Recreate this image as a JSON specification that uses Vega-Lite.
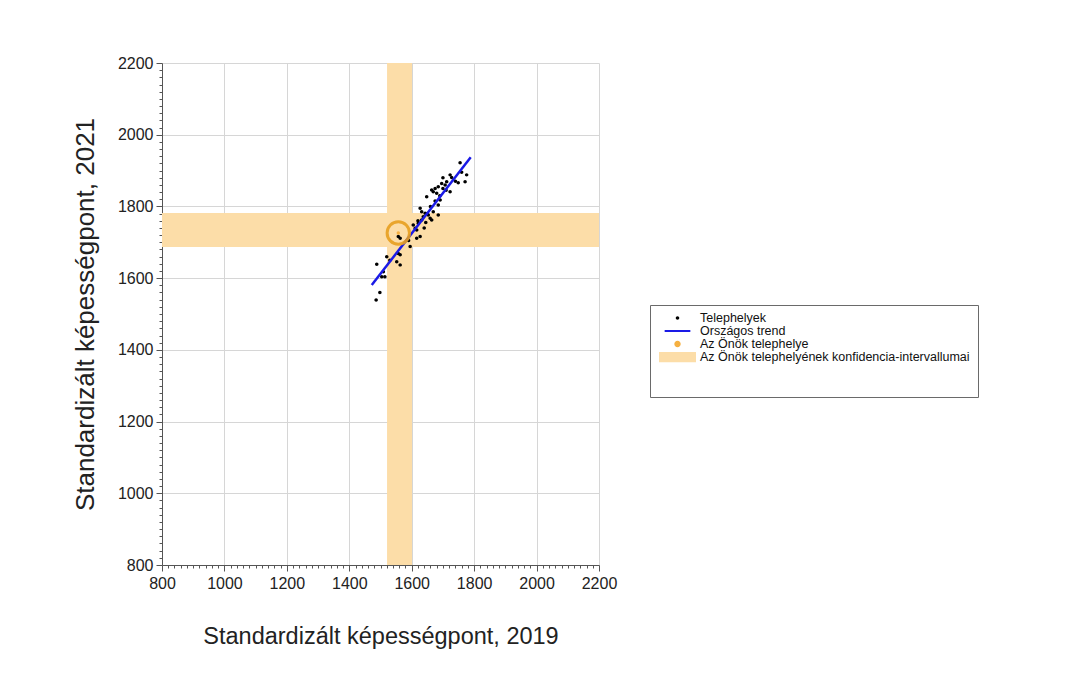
{
  "$schema": "https://vega.github.io/schema/vega-lite/v6.json",
  "width": 437,
  "height": 502,
  "autosize": {"type": "none"},
  "padding": {"left": 162, "top": 63, "right": 467, "bottom": 112},
  "background": "white",
  "config": {
    "view": {"stroke": null},
    "font": "Liberation Sans",
    "axis": {
      "labelFont": "Liberation Sans",
      "titleFont": "Liberation Sans",
      "labelFontSize": 16,
      "titleFontWeight": "normal",
      "labelColor": "#222222",
      "titleColor": "#222222",
      "domainColor": "#555555",
      "tickColor": "#555555",
      "labelFlush": false
    }
  },
  "datasets": {
    "sites": [
      {"x": 1755, "y": 1922, "series": "Telephelyek"},
      {"x": 1723, "y": 1888, "series": "Telephelyek"},
      {"x": 1728, "y": 1881, "series": "Telephelyek"},
      {"x": 1776, "y": 1888, "series": "Telephelyek"},
      {"x": 1771, "y": 1869, "series": "Telephelyek"},
      {"x": 1749, "y": 1866, "series": "Telephelyek"},
      {"x": 1712, "y": 1869, "series": "Telephelyek"},
      {"x": 1707, "y": 1860, "series": "Telephelyek"},
      {"x": 1696, "y": 1864, "series": "Telephelyek"},
      {"x": 1685, "y": 1855, "series": "Telephelyek"},
      {"x": 1675, "y": 1850, "series": "Telephelyek"},
      {"x": 1669, "y": 1841, "series": "Telephelyek"},
      {"x": 1680, "y": 1837, "series": "Telephelyek"},
      {"x": 1664, "y": 1846, "series": "Telephelyek"},
      {"x": 1723, "y": 1841, "series": "Telephelyek"},
      {"x": 1648, "y": 1827, "series": "Telephelyek"},
      {"x": 1691, "y": 1818, "series": "Telephelyek"},
      {"x": 1685, "y": 1804, "series": "Telephelyek"},
      {"x": 1627, "y": 1795, "series": "Telephelyek"},
      {"x": 1632, "y": 1785, "series": "Telephelyek"},
      {"x": 1643, "y": 1781, "series": "Telephelyek"},
      {"x": 1653, "y": 1776, "series": "Telephelyek"},
      {"x": 1637, "y": 1771, "series": "Telephelyek"},
      {"x": 1659, "y": 1767, "series": "Telephelyek"},
      {"x": 1664, "y": 1762, "series": "Telephelyek"},
      {"x": 1632, "y": 1762, "series": "Telephelyek"},
      {"x": 1621, "y": 1753, "series": "Telephelyek"},
      {"x": 1685, "y": 1776, "series": "Telephelyek"},
      {"x": 1669, "y": 1785, "series": "Telephelyek"},
      {"x": 1605, "y": 1748, "series": "Telephelyek"},
      {"x": 1611, "y": 1739, "series": "Telephelyek"},
      {"x": 1616, "y": 1734, "series": "Telephelyek"},
      {"x": 1627, "y": 1716, "series": "Telephelyek"},
      {"x": 1616, "y": 1711, "series": "Telephelyek"},
      {"x": 1557, "y": 1716, "series": "Telephelyek"},
      {"x": 1563, "y": 1711, "series": "Telephelyek"},
      {"x": 1595, "y": 1688, "series": "Telephelyek"},
      {"x": 1563, "y": 1665, "series": "Telephelyek"},
      {"x": 1557, "y": 1669, "series": "Telephelyek"},
      {"x": 1520, "y": 1660, "series": "Telephelyek"},
      {"x": 1552, "y": 1646, "series": "Telephelyek"},
      {"x": 1563, "y": 1637, "series": "Telephelyek"},
      {"x": 1488, "y": 1639, "series": "Telephelyek"},
      {"x": 1509, "y": 1618, "series": "Telephelyek"},
      {"x": 1504, "y": 1604, "series": "Telephelyek"},
      {"x": 1514, "y": 1604, "series": "Telephelyek"},
      {"x": 1498, "y": 1560, "series": "Telephelyek"},
      {"x": 1486, "y": 1539, "series": "Telephelyek"},
      {"x": 1700, "y": 1850, "series": "Telephelyek"},
      {"x": 1690, "y": 1830, "series": "Telephelyek"},
      {"x": 1740, "y": 1870, "series": "Telephelyek"},
      {"x": 1650, "y": 1780, "series": "Telephelyek"},
      {"x": 1620, "y": 1760, "series": "Telephelyek"},
      {"x": 1640, "y": 1740, "series": "Telephelyek"},
      {"x": 1660, "y": 1800, "series": "Telephelyek"},
      {"x": 1710, "y": 1845, "series": "Telephelyek"},
      {"x": 1760, "y": 1895, "series": "Telephelyek"},
      {"x": 1590, "y": 1705, "series": "Telephelyek"},
      {"x": 1530, "y": 1650, "series": "Telephelyek"},
      {"x": 1675, "y": 1815, "series": "Telephelyek"},
      {"x": 1645, "y": 1755, "series": "Telephelyek"},
      {"x": 1700, "y": 1880, "series": "Telephelyek"}
    ],
    "trend": [
      {"x": 1472, "y": 1581, "series": "Országos trend"},
      {"x": 1789, "y": 1937, "series": "Országos trend"}
    ],
    "own": [
      {"x": 1557, "y": 1726, "xlo": 1521, "xhi": 1601, "ylo": 1687, "yhi": 1782, "series": "Az Önök telephelye"}
    ]
  },
  "layer": [
    {
      "data": {"name": "own"},
      "mark": {"type": "rect", "color": "#FCDDA8"},
      "encoding": {
        "x": {
          "field": "xlo", "type": "quantitative", "title": "Standardizált képességpont, 2019",
          "scale": {"domain": [800, 2200], "nice": false},
          "axis": {
            "values": [800,820,840,860,880,900,920,940,960,980,1000,1020,1040,1060,1080,1100,1120,1140,1160,1180,1200,1220,1240,1260,1280,1300,1320,1340,1360,1380,1400,1420,1440,1460,1480,1500,1520,1540,1560,1580,1600,1620,1640,1660,1680,1700,1720,1740,1760,1780,1800,1820,1840,1860,1880,1900,1920,1940,1960,1980,2000,2020,2040,2060,2080,2100,2120,2140,2160,2180,2200],
            "tickCount": 200,
            "format": "d",
            "grid": true,
            "labelOverlap": false,
            "labelFlush": false,
            "labelExpr": "datum.value % 200 === 0 ? datum.label : ''",
            "gridColor": {"condition": {"test": "datum.value % 200 === 0", "value": "#d6d6d6"}, "value": "rgba(0,0,0,0)"},
            "tickSize": {"condition": {"test": "datum.value % 200 === 0", "value": 6}, "value": 3},
            "labelPadding": 4,
            "titleFontSize": 23.5,
            "titlePadding": 33
          }
        },
        "x2": {"field": "xhi"},
        "y": {
          "datum": 800, "type": "quantitative", "title": "Standardizált képességpont, 2021",
          "scale": {"domain": [800, 2200], "nice": false}
        },
        "y2": {"datum": 2200}
      }
    },
    {
      "data": {"name": "own"},
      "mark": {"type": "rect", "color": "#FCDDA8"},
      "encoding": {
        "y": {
          "field": "ylo", "type": "quantitative", "title": "Standardizált képességpont, 2021",
          "axis": {
            "values": [800,820,840,860,880,900,920,940,960,980,1000,1020,1040,1060,1080,1100,1120,1140,1160,1180,1200,1220,1240,1260,1280,1300,1320,1340,1360,1380,1400,1420,1440,1460,1480,1500,1520,1540,1560,1580,1600,1620,1640,1660,1680,1700,1720,1740,1760,1780,1800,1820,1840,1860,1880,1900,1920,1940,1960,1980,2000,2020,2040,2060,2080,2100,2120,2140,2160,2180,2200],
            "tickCount": 200,
            "format": "d",
            "grid": true,
            "labelOverlap": false,
            "labelFlush": false,
            "labelExpr": "datum.value % 200 === 0 ? datum.label : ''",
            "gridColor": {"condition": {"test": "datum.value % 200 === 0", "value": "#d6d6d6"}, "value": "rgba(0,0,0,0)"},
            "tickSize": {"condition": {"test": "datum.value % 200 === 0", "value": 6}, "value": 3},
            "labelPadding": 3,
            "titleFontSize": 26,
            "titlePadding": 19
          }
        },
        "y2": {"field": "yhi"},
        "x": {"datum": 800, "type": "quantitative", "title": "Standardizált képességpont, 2019"},
        "x2": {"datum": 2200}
      }
    },
    {
      "data": {"name": "sites"},
      "mark": {"type": "point", "filled": true, "opacity": 1},
      "encoding": {
        "x": {"field": "x", "type": "quantitative", "title": "Standardizált képességpont, 2019"},
        "y": {"field": "y", "type": "quantitative", "title": "Standardizált képességpont, 2021"},
        "color": {
          "field": "series", "type": "nominal", "title": " ",
          "scale": {
            "domain": ["Telephelyek", "Országos trend", "Az Önök telephelye", "Az Önök telephelyének konfidencia-intervallumai"],
            "range": ["#000000", "#1a1ae6", "#f5b041", "#FCDDA8"]
          },
          "legend": {
            "titleOrient": "bottom",
            "titleFontSize": 12,
            "titlePadding": 14,
            "orient": "none",
            "legendX": 488,
            "legendY": 242,
            "padding": 8,
            "strokeColor": "#6a6a6a",
            "fillColor": "white",
            "labelFont": "Liberation Sans",
            "labelFontSize": 12.5,
            "labelColor": "#111111",
            "labelLimit": 400,
            "labelOffset": 3,
            "clipHeight": 10,
            "rowPadding": 0
          }
        },
        "shape": {
          "field": "series", "type": "nominal", "title": " ",
          "scale": {
            "domain": ["Telephelyek", "Országos trend", "Az Önök telephelye", "Az Önök telephelyének konfidencia-intervallumai"],
            "range": [
              "M-0.2,0A0.2,0.2,0,1,0,0.2,0A0.2,0.2,0,1,0,-0.2,0Z",
              "M-1,-0.07H1V0.07H-1Z",
              "M-0.2,0A0.2,0.2,0,1,0,0.2,0A0.2,0.2,0,1,0,-0.2,0Z",
              "M-1,-0.28H1V0.28H-1Z"
            ]
          }
        },
        "size": {
          "field": "series", "type": "nominal", "title": " ",
          "scale": {
            "domain": ["Telephelyek", "Országos trend", "Az Önök telephelye", "Az Önök telephelyének konfidencia-intervallumai"],
            "range": [306, 1369, 306, 1369]
          }
        }
      }
    },
    {
      "data": {"name": "trend"},
      "mark": {"type": "line", "color": "#1a1ae6", "strokeWidth": 2.5},
      "encoding": {
        "x": {"field": "x", "type": "quantitative", "title": "Standardizált képességpont, 2019"},
        "y": {"field": "y", "type": "quantitative", "title": "Standardizált képességpont, 2021"}
      }
    },
    {
      "data": {"name": "own"},
      "mark": {"type": "point", "filled": false, "size": 500, "stroke": "#E8A020", "strokeWidth": 3, "opacity": 0.9},
      "encoding": {
        "x": {"field": "x", "type": "quantitative", "title": "Standardizált képességpont, 2019"},
        "y": {"field": "y", "type": "quantitative", "title": "Standardizált képességpont, 2021"}
      }
    },
    {
      "data": {"name": "own"},
      "mark": {"type": "point", "filled": true, "size": 12, "color": "#f5b041", "opacity": 1},
      "encoding": {
        "x": {"field": "x", "type": "quantitative", "title": "Standardizált képességpont, 2019"},
        "y": {"field": "y", "type": "quantitative", "title": "Standardizált képességpont, 2021"}
      }
    }
  ]
}
